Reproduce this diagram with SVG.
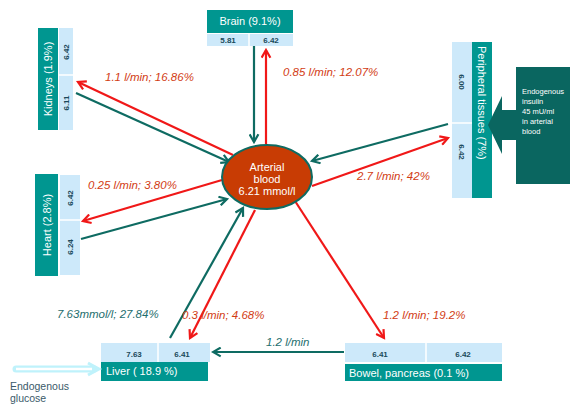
<svg xmlns="http://www.w3.org/2000/svg" width="572" height="407" viewBox="0 0 572 407">
<defs>
<style>
.tl{fill:#009690}
.lb{fill:#cde9fa}
.sep{stroke:#ffffff;stroke-width:1.5}
.tt{font-family:"Liberation Sans",Arial,sans-serif;font-size:11px;fill:#ffffff}
.vv{font-family:"Liberation Sans",Arial,sans-serif;font-size:8px;font-weight:bold;fill:#1a4a5a}
.rl{font-family:"Liberation Sans",Arial,sans-serif;font-size:11.5px;font-style:italic;fill:#d23c14}
.gl{font-family:"Liberation Sans",Arial,sans-serif;font-size:11.5px;font-style:italic;fill:#1e6e6e}
.red{stroke:#f01818;stroke-width:2.2;fill:none;marker-end:url(#ar)}
.grn{stroke:#0e6b62;stroke-width:2.2;fill:none;marker-end:url(#ag)}
</style>
<marker id="ar" viewBox="0 0 10 10" refX="8" refY="5" markerWidth="5" markerHeight="5" orient="auto" markerUnits="strokeWidth">
<path d="M1,1 L8,5 L1,9" fill="none" stroke="#f01818" stroke-width="2"/>
</marker>
<marker id="ag" viewBox="0 0 10 10" refX="8" refY="5" markerWidth="5" markerHeight="5" orient="auto" markerUnits="strokeWidth">
<path d="M1,1 L8,5 L1,9" fill="none" stroke="#0e6b62" stroke-width="2"/>
</marker>
</defs>
<rect width="572" height="407" fill="#ffffff"/>

<g id="connectors">
<line class="grn" x1="254" y1="46" x2="254" y2="142"/>
<line class="red" x1="266" y1="144" x2="266" y2="50"/>
<line class="red" x1="233" y1="155" x2="78" y2="82"/>
<line class="grn" x1="76" y1="93" x2="229" y2="162"/>
<line class="grn" x1="448" y1="124" x2="312" y2="161"/>
<line class="red" x1="312" y1="186" x2="448" y2="138"/>
<line class="red" x1="222" y1="180" x2="83" y2="221"/>
<line class="grn" x1="81" y1="239" x2="227" y2="199"/>
<line class="grn" x1="170" y1="338" x2="243" y2="208"/>
<line class="red" x1="255" y1="210" x2="190" y2="338"/>
<line class="red" x1="295" y1="201" x2="384" y2="338"/>
<line class="grn" x1="344" y1="352" x2="213" y2="352"/>
</g>

<g id="arterial">
<ellipse cx="267" cy="177" rx="45" ry="32" fill="#c83c04" stroke="#0e6b62" stroke-width="2"/>
<text class="tt" x="267" y="171" text-anchor="middle">Arterial</text>
<text class="tt" x="267" y="183" text-anchor="middle">blood</text>
<text class="tt" x="267" y="195" text-anchor="middle">6.21 mmol/l</text>
</g>

<g id="brain">
<rect class="tl" x="207" y="10" width="86" height="23"/>
<rect class="lb" x="207" y="34" width="86" height="12"/>
<line class="sep" x1="249" y1="34" x2="249" y2="46"/>
<text class="tt" x="250" y="25" text-anchor="middle">Brain (9.1%)</text>
<text class="vv" x="228" y="43" text-anchor="middle">5.81</text>
<text class="vv" x="271" y="43" text-anchor="middle">6.42</text>
</g>

<g id="kidneys">
<rect class="tl" x="38" y="28" width="20" height="102"/>
<rect class="lb" x="59" y="28" width="14" height="102"/>
<line class="sep" x1="59" y1="75" x2="73" y2="75"/>
<text class="tt" transform="translate(52,79) rotate(-90)" text-anchor="middle">Kidneys (1.9%)</text>
<text class="vv" transform="translate(69,52) rotate(-90)" text-anchor="middle">6.42</text>
<text class="vv" transform="translate(69,103) rotate(-90)" text-anchor="middle">6.11</text>
</g>

<g id="heart">
<rect class="tl" x="35" y="174" width="23" height="102"/>
<rect class="lb" x="60" y="175" width="20" height="100"/>
<line class="sep" x1="60" y1="220" x2="80" y2="220"/>
<text class="tt" transform="translate(51,225) rotate(-90)" text-anchor="middle">Heart (2.8%)</text>
<text class="vv" transform="translate(73,198) rotate(-90)" text-anchor="middle">6.42</text>
<text class="vv" transform="translate(73,247) rotate(-90)" text-anchor="middle">6.24</text>
</g>

<g id="peripheral">
<rect class="lb" x="452" y="42" width="20" height="156"/>
<rect class="tl" x="472" y="42" width="20" height="156"/>
<line class="sep" x1="452" y1="123" x2="472" y2="123"/>
<text class="tt" transform="translate(478,46) rotate(90)">Peripheral tissues (7%)</text>
<text class="vv" transform="translate(459,82) rotate(90)" text-anchor="middle">6.00</text>
<text class="vv" transform="translate(459,152) rotate(90)" text-anchor="middle">6.42</text>
</g>

<g id="insulin">
<path d="M570,67 L516,67 L516,110 L502,110 L502,96 L488,125 L502,154 L502,140 L516,140 L516,184 L570,184 Z" fill="#0a6660"/>
<text class="tt" style="font-size:7.5px" x="522" y="94">Endogenous</text>
<text class="tt" style="font-size:7.5px" x="522" y="104">insulin</text>
<text class="tt" style="font-size:7.5px" x="522" y="114">45 mU/ml</text>
<text class="tt" style="font-size:7.5px" x="522" y="124">in arterial</text>
<text class="tt" style="font-size:7.5px" x="522" y="134">blood</text>
</g>

<g id="liver">
<rect class="lb" x="101" y="343" width="109" height="19"/>
<line class="sep" x1="158" y1="343" x2="158" y2="362"/>
<rect class="tl" x="101" y="362" width="107" height="19"/>
<text class="vv" x="134" y="357" text-anchor="middle">7.63</text>
<text class="vv" x="182" y="357" text-anchor="middle">6.41</text>
<text class="tt" x="106" y="375">Liver (  18.9 %)</text>
</g>

<g id="bowel">
<rect class="lb" x="345" y="343" width="157" height="19"/>
<line class="sep" x1="426" y1="343" x2="426" y2="362"/>
<rect class="tl" x="345" y="364" width="157" height="17"/>
<text class="vv" x="380" y="357" text-anchor="middle">6.41</text>
<text class="vv" x="463" y="357" text-anchor="middle">6.42</text>
<text class="tt" x="349" y="377">Bowel, pancreas (0.1 %)</text>
</g>

<g id="glucose">
<line x1="16" y1="369" x2="94" y2="369" stroke="#bff2fb" stroke-width="7" stroke-linecap="round"/>
<line x1="16" y1="369" x2="92" y2="369" stroke="#ffffff" stroke-width="2.5"/>
<path d="M88,363 L99,369 L88,375" fill="none" stroke="#bff2fb" stroke-width="3"/>
<text x="10" y="390" style="font-family:'Liberation Sans',Arial,sans-serif;font-size:10.5px;fill:#3a5a6a">Endogenous</text>
<text x="10" y="402" style="font-family:'Liberation Sans',Arial,sans-serif;font-size:10.5px;fill:#3a5a6a">glucose</text>
</g>

<g id="labels">
<text class="rl" x="105" y="81">1.1 l/min; 16.86%</text>
<text class="rl" x="283" y="76">0.85 l/min; 12.07%</text>
<text class="rl" x="357" y="180">2.7 l/min; 42%</text>
<text class="rl" x="88" y="189">0.25 l/min; 3.80%</text>
<text class="gl" x="57" y="318">7.63mmol/l; 27.84%</text>
<text class="rl" x="182" y="319">0.3 l/min; 4.68%</text>
<text class="rl" x="383" y="319">1.2 l/min; 19.2%</text>
<text class="gl" x="266" y="346">1.2 l/min</text>
</g>
</svg>
